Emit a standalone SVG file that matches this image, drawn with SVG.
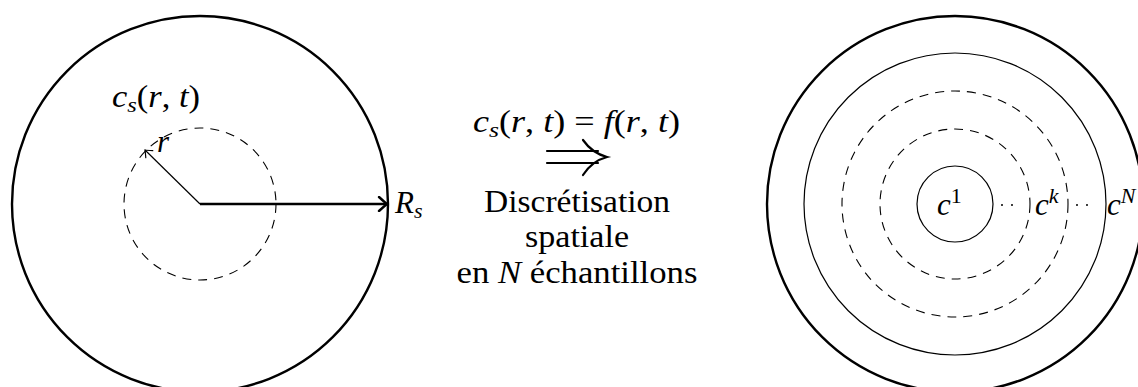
<svg xmlns="http://www.w3.org/2000/svg" width="1138" height="387" viewBox="0 0 1138 387">
<style>
  .t { font-family: "Liberation Serif", "Times New Roman", serif; font-size: 31px; fill: #000; }
  .i { font-style: italic; }
  .sub { font-size: 22px; font-style: italic; }
  .thick { fill: none; stroke: #000; stroke-width: 2.4; }
  .thin { fill: none; stroke: #000; stroke-width: 1.2; }
  .dash { fill: none; stroke: #000; stroke-width: 1.1; stroke-dasharray: 9 7; }
  .dots { fill: none; stroke: #000; stroke-width: 2; stroke-linecap: round; stroke-dasharray: 0 10; }
  .impl { fill: none; stroke: #000; stroke-width: 2.2; stroke-linecap: round; }
</style>
<defs>
  <marker id="tipThick" viewBox="-10 -8 12 16" refX="0" refY="0" markerWidth="12" markerHeight="16" markerUnits="userSpaceOnUse" orient="auto">
    <path d="M -8 -7 Q -2 -1.5 0 0 Q -2 1.5 -8 7" fill="none" stroke="#000" stroke-width="2.4" stroke-linecap="round"/>
  </marker>
  <marker id="tipThin" viewBox="-10 -8 12 16" refX="0" refY="0" markerWidth="12" markerHeight="16" markerUnits="userSpaceOnUse" orient="auto">
    <path d="M -6 -5 Q -1.5 -1 0 0 Q -1.5 1 -6 5" fill="none" stroke="#000" stroke-width="1.2" stroke-linecap="round"/>
  </marker>
</defs>

<g id="left-sphere">
  <circle class="thick" cx="200" cy="204" r="188"/>
  <circle class="dash" cx="200" cy="204" r="76"/>
  <text class="t" x="112" y="107" textLength="88" lengthAdjust="spacingAndGlyphs"><tspan class="i">c</tspan><tspan class="sub" dy="5">s</tspan><tspan dy="-5">(</tspan><tspan class="i">r</tspan>, <tspan class="i">t</tspan>)</text>
  <text class="t i" x="157" y="152">r</text>
  <text class="t" x="395" y="213"><tspan class="i">R</tspan><tspan class="sub" dy="5">s</tspan></text>
</g>

<g id="middle">
  <text class="t" x="473" y="132" textLength="207" lengthAdjust="spacingAndGlyphs"><tspan class="i">c</tspan><tspan class="sub" dy="5">s</tspan><tspan dy="-5">(</tspan><tspan class="i">r</tspan>, <tspan class="i">t</tspan>) = <tspan class="i">f</tspan>(<tspan class="i">r</tspan>, <tspan class="i">t</tspan>)</text>
  <text class="t" x="577" y="212" text-anchor="middle" textLength="186" lengthAdjust="spacingAndGlyphs">Discrétisation</text>
  <text class="t" x="577" y="247" text-anchor="middle" textLength="104" lengthAdjust="spacingAndGlyphs">spatiale</text>
  <text class="t" x="577" y="283" text-anchor="middle" textLength="241" lengthAdjust="spacingAndGlyphs">en <tspan class="i">N</tspan> échantillons</text>
</g>

<g id="right-sphere">
  <circle class="thick" cx="955" cy="204" r="188"/>
  <circle class="thin" cx="955" cy="204" r="151"/>
  <circle class="dash" cx="955" cy="204" r="113"/>
  <circle class="dash" cx="955" cy="204" r="75"/>
  <circle class="thin" cx="955" cy="204" r="38"/>
  <text class="t" x="937" y="215"><tspan class="i">c</tspan><tspan font-size="22" dy="-12">1</tspan></text>
  <text class="t" x="1035" y="215"><tspan class="i">c</tspan><tspan class="sub" dy="-12">k</tspan></text>
  <text class="t" x="1107" y="215"><tspan class="i">c</tspan><tspan class="sub" dy="-12">N</tspan></text>
</g>

<g id="connectors">
  <line class="thick" x1="200" y1="204" x2="387" y2="204" marker-end="url(#tipThick)"/>
  <line class="thin" x1="200" y1="204" x2="145" y2="150" marker-end="url(#tipThin)"/>
  <g id="implies">
    <line class="impl" x1="547" y1="151" x2="598" y2="151"/>
    <line class="impl" x1="547" y1="163" x2="598" y2="163"/>
    <path class="impl" d="M 583 140 Q 592 153 607 157 Q 592 161 583 175"/>
  </g>
  <line class="dots" x1="1002" y1="205" x2="1022" y2="205"/>
  <line class="dots" x1="1077" y1="205" x2="1097" y2="205"/>
</g>
</svg>
